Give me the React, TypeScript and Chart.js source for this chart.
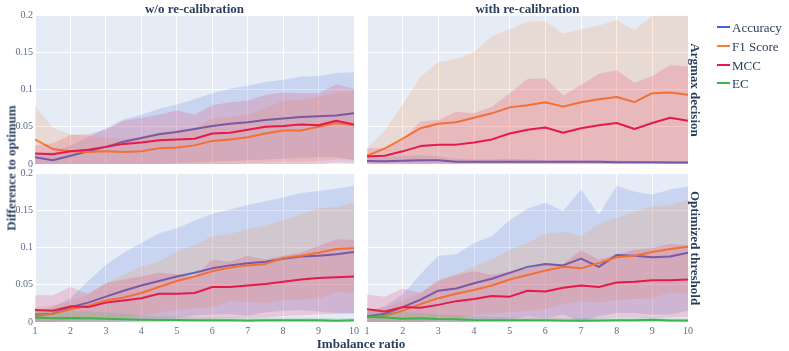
import React, { useEffect, useRef } from 'react';
import { Chart, registerables } from 'chart.js';

Chart.register(...registerables);

// ---------------- data ----------------
const xValues = [1, 1.5, 2, 2.5, 3, 3.5, 4, 4.5, 5, 5.5, 6, 6.5, 7, 7.5, 8, 8.5, 9, 9.5, 10];
const xTickValues = [1, 2, 3, 4, 5, 6, 7, 8, 9, 10];
const xTickLabels = ['1', '2', '3', '4', '5', '6', '7', '8', '9', '10'];
const yTickValues = [0, 0.05, 0.1, 0.15, 0.2];
const yTickLabels = ['0', '0.05', '0.1', '0.15', '0.2'];

const metricNames = ['Accuracy', 'F1 Score', 'MCC', 'EC'];
const columnTitles = ['w/o re-calibration', 'with re-calibration'];
const rowTitles = ['Argmax decision', 'Optimized threshold'];
const xAxisTitle = 'Imbalance ratio';
const yAxisTitle = 'Difference to optimum';

// Argmax decision, w/o re-calibration
const accMeanTL = [0.009, 0.005, 0.011, 0.017, 0.023, 0.030, 0.035, 0.040, 0.043, 0.047, 0.051, 0.054, 0.056, 0.059, 0.061, 0.063, 0.064, 0.065, 0.068];
const accUpTL = [0.014, 0.016, 0.025, 0.036, 0.048, 0.060, 0.066, 0.074, 0.080, 0.087, 0.095, 0.101, 0.105, 0.110, 0.113, 0.117, 0.118, 0.122, 0.123];
const accLoTL = [0, 0, 0, 0, 0, 0, 0, 0, 0.001, 0.002, 0.003, 0.004, 0.005, 0.006, 0.007, 0.008, 0.009, 0.009, 0.005];
const f1MeanTL = [0.033, 0.020, 0.017, 0.016, 0.017, 0.016, 0.017, 0.021, 0.022, 0.025, 0.031, 0.033, 0.036, 0.041, 0.045, 0.045, 0.050, 0.055, 0.052];
const f1UpTL = [0.078, 0.049, 0.040, 0.038, 0.035, 0.034, 0.037, 0.043, 0.046, 0.048, 0.061, 0.063, 0.066, 0.075, 0.085, 0.086, 0.091, 0.096, 0.098];
const f1LoTL = [0, 0, 0, 0, 0, 0, 0, 0, 0, 0, 0, 0, 0.001, 0.002, 0.003, 0.003, 0.004, 0.006, 0.006];
const mccMeanTL = [0.014, 0.013, 0.017, 0.019, 0.023, 0.027, 0.029, 0.032, 0.033, 0.034, 0.041, 0.042, 0.046, 0.050, 0.051, 0.053, 0.052, 0.058, 0.053];
const mccUpTL = [0.025, 0.028, 0.039, 0.040, 0.046, 0.058, 0.062, 0.066, 0.072, 0.066, 0.079, 0.083, 0.085, 0.093, 0.096, 0.095, 0.095, 0.107, 0.101];
const mccLoTL = [0, 0, 0, 0, 0, 0, 0, 0, 0, 0, 0, 0, 0, 0, 0, 0, 0, 0.002, 0.001];

// Argmax decision, with re-calibration
const accMeanTR = [0.004, 0.0036, 0.0045, 0.005, 0.005, 0.003, 0.003, 0.003, 0.003, 0.003, 0.003, 0.003, 0.003, 0.003, 0.0025, 0.0025, 0.0025, 0.002, 0.002];
const accUpTR = [0.008, 0.009, 0.011, 0.012, 0.010, 0.007, 0.006, 0.006, 0.007, 0.006, 0.005, 0.005, 0.005, 0.005, 0.005, 0.004, 0.004, 0.004, 0.004];
const accLoTR = [0.001, 0.001, 0.001, 0.001, 0.001, 0.001, 0.001, 0.001, 0.001, 0.001, 0.001, 0.001, 0.001, 0.001, 0.001, 0.001, 0.001, 0.001, 0.001];
const f1MeanTR = [0.011, 0.021, 0.034, 0.048, 0.054, 0.056, 0.062, 0.068, 0.076, 0.079, 0.083, 0.077, 0.083, 0.087, 0.090, 0.083, 0.095, 0.096, 0.093];
const f1UpTR = [0.021, 0.045, 0.080, 0.117, 0.137, 0.141, 0.150, 0.171, 0.181, 0.191, 0.192, 0.175, 0.181, 0.186, 0.193, 0.180, 0.199, 0.199, 0.199];
const f1LoTR = [0, 0, 0, 0, 0, 0, 0, 0, 0, 0, 0, 0, 0, 0, 0, 0, 0, 0, 0];
const mccMeanTR = [0.010, 0.011, 0.017, 0.024, 0.026, 0.026, 0.029, 0.033, 0.041, 0.046, 0.049, 0.042, 0.048, 0.052, 0.055, 0.047, 0.055, 0.062, 0.058];
const mccUpTR = [0.021, 0.021, 0.033, 0.057, 0.059, 0.070, 0.068, 0.077, 0.095, 0.114, 0.115, 0.092, 0.106, 0.121, 0.126, 0.109, 0.118, 0.133, 0.131];
const mccLoTR = [0, 0, 0, 0, 0, 0, 0, 0, 0, 0, 0, 0, 0, 0, 0, 0, 0, 0, 0];

// Optimized threshold, w/o re-calibration
const accMeanBL = [0.0098, 0.011, 0.020, 0.026, 0.034, 0.042, 0.049, 0.055, 0.061, 0.066, 0.072, 0.076, 0.079, 0.081, 0.085, 0.088, 0.089, 0.091, 0.094];
const accUpBL = [0.015, 0.020, 0.032, 0.055, 0.077, 0.093, 0.106, 0.119, 0.126, 0.136, 0.145, 0.151, 0.157, 0.162, 0.167, 0.173, 0.176, 0.179, 0.183];
const accLoBL = [0, 0, 0, 0, 0, 0.001, 0.002, 0.003, 0.005, 0.009, 0.010, 0.011, 0.008, 0.013, 0.015, 0.016, 0.014, 0.012, 0.012];
const f1MeanBL = [0.0085, 0.011, 0.017, 0.022, 0.029, 0.033, 0.039, 0.047, 0.055, 0.061, 0.068, 0.073, 0.076, 0.078, 0.086, 0.089, 0.093, 0.098, 0.099];
const f1UpBL = [0.020, 0.022, 0.028, 0.037, 0.052, 0.063, 0.075, 0.081, 0.095, 0.103, 0.115, 0.118, 0.125, 0.130, 0.137, 0.144, 0.153, 0.154, 0.160];
const f1LoBL = [0, 0, 0.002, 0.003, 0.004, 0.006, 0.008, 0.012, 0.016, 0.018, 0.020, 0.028, 0.027, 0.025, 0.030, 0.030, 0.032, 0.040, 0.039];
const mccMeanBL = [0.016, 0.015, 0.021, 0.020, 0.026, 0.029, 0.032, 0.038, 0.038, 0.039, 0.047, 0.047, 0.049, 0.051, 0.054, 0.057, 0.059, 0.060, 0.061];
const mccUpBL = [0.036, 0.036, 0.047, 0.038, 0.052, 0.057, 0.061, 0.066, 0.064, 0.061, 0.084, 0.081, 0.089, 0.084, 0.089, 0.093, 0.102, 0.111, 0.110];
const mccLoBL = [0, 0, 0, 0, 0, 0, 0.001, 0.002, 0.003, 0.003, 0.004, 0.005, 0.005, 0.006, 0.008, 0.009, 0.010, 0.011, 0.011];
const ecMeanBL = [0.006, 0.005, 0.0054, 0.005, 0.0045, 0.0036, 0.003, 0.0027, 0.0027, 0.0022, 0.0022, 0.0022, 0.002, 0.0022, 0.0022, 0.0022, 0.0022, 0.0018, 0.0022];
const ecUpBL = [0.016, 0.015, 0.015, 0.014, 0.013, 0.011, 0.009, 0.008, 0.007, 0.006, 0.006, 0.006, 0.005, 0.006, 0.006, 0.006, 0.006, 0.005, 0.005];
const ecLoBL = [0, 0, 0, 0, 0, 0, 0, 0, 0, 0, 0, 0, 0, 0, 0, 0, 0, 0, 0];

// Optimized threshold, with re-calibration
const accMeanBR = [0.0076, 0.011, 0.020, 0.030, 0.042, 0.045, 0.052, 0.058, 0.066, 0.074, 0.078, 0.076, 0.085, 0.074, 0.090, 0.089, 0.087, 0.088, 0.093];
const accUpBR = [0.014, 0.021, 0.037, 0.064, 0.089, 0.091, 0.106, 0.115, 0.137, 0.152, 0.160, 0.149, 0.178, 0.144, 0.183, 0.175, 0.171, 0.178, 0.182];
const accLoBR = [0, 0, 0, 0, 0, 0, 0.001, 0.002, 0.003, 0.008, 0.005, 0.010, 0, 0.008, 0.012, 0.012, 0.010, 0.010, 0.015];
const f1MeanBR = [0.0063, 0.0085, 0.015, 0.024, 0.032, 0.038, 0.043, 0.049, 0.057, 0.063, 0.069, 0.074, 0.072, 0.079, 0.087, 0.089, 0.094, 0.098, 0.101];
const f1UpBR = [0.015, 0.020, 0.028, 0.039, 0.057, 0.064, 0.075, 0.084, 0.097, 0.106, 0.118, 0.121, 0.115, 0.132, 0.140, 0.148, 0.155, 0.157, 0.164];
const f1LoBR = [0, 0, 0, 0, 0.002, 0.004, 0.010, 0.011, 0.013, 0.015, 0.017, 0.024, 0.028, 0.026, 0.030, 0.031, 0.032, 0.040, 0.038];
const mccMeanBR = [0.017, 0.014, 0.020, 0.019, 0.023, 0.028, 0.031, 0.035, 0.034, 0.042, 0.041, 0.046, 0.049, 0.047, 0.053, 0.054, 0.056, 0.056, 0.057];
const mccUpBR = [0.037, 0.034, 0.045, 0.039, 0.055, 0.063, 0.068, 0.063, 0.068, 0.072, 0.079, 0.078, 0.096, 0.084, 0.090, 0.097, 0.099, 0.105, 0.103];
const mccLoBR = [0, 0, 0, 0, 0, 0, 0, 0.001, 0.002, 0.003, 0.003, 0.004, 0.002, 0.004, 0.006, 0.006, 0.005, 0.006, 0.007];
const ecMeanBR = [0.007, 0.006, 0.0045, 0.005, 0.004, 0.0036, 0.0027, 0.0025, 0.0025, 0.0022, 0.0022, 0.002, 0.0018, 0.002, 0.0025, 0.0025, 0.003, 0.002, 0.002];
const ecUpBR = [0.015, 0.014, 0.013, 0.012, 0.010, 0.009, 0.008, 0.007, 0.006, 0.006, 0.006, 0.005, 0.005, 0.005, 0.006, 0.006, 0.006, 0.005, 0.005];
const ecLoBR = [0, 0, 0, 0, 0, 0, 0, 0, 0, 0, 0, 0, 0, 0, 0, 0, 0, 0, 0];

// ---------------- styling ----------------
const W = 789;
const H = 351;
const FONT = '"Liberation Serif", "Times New Roman", Times, serif';
const TEXT = '#2a3f5f';
const TICK = '#5a6a88';
const PLOT_BG = '#E5ECF6';
const COLORS = ['#4363d8', '#f58231', '#e6194b', '#3cb44b'];
const BAND_ALPHA = 0.17;

function rgba(hex: string, a: number) {
  const n = parseInt(hex.slice(1), 16);
  return `rgba(${(n >> 16) & 255},${(n >> 8) & 255},${n & 255},${a})`;
}

type Series = { name: string; color: string; mean: number[]; up: number[]; lo: number[] };
type Panel = {
  key: string;
  left: number; top: number; right: number; bottom: number;
  showX: boolean; showY: boolean;
  series: Series[];
};

const mk = (i: number, mean: number[], up: number[], lo: number[]): Series => ({
  name: metricNames[i], color: COLORS[i], mean, up, lo,
});

const PX = { l1: 35, r1: 354, l2: 367, r2: 688, t1: 15, b1: 164, t2: 173, b2: 322 };

const panels: Panel[] = [
  {
    key: 'TL', left: PX.l1, right: PX.r1, top: PX.t1, bottom: PX.b1, showX: false, showY: true,
    series: [mk(0, accMeanTL, accUpTL, accLoTL), mk(1, f1MeanTL, f1UpTL, f1LoTL), mk(2, mccMeanTL, mccUpTL, mccLoTL)],
  },
  {
    key: 'TR', left: PX.l2, right: PX.r2, top: PX.t1, bottom: PX.b1, showX: false, showY: false,
    series: [mk(0, accMeanTR, accUpTR, accLoTR), mk(1, f1MeanTR, f1UpTR, f1LoTR), mk(2, mccMeanTR, mccUpTR, mccLoTR)],
  },
  {
    key: 'BL', left: PX.l1, right: PX.r1, top: PX.t2, bottom: PX.b2, showX: true, showY: true,
    series: [mk(0, accMeanBL, accUpBL, accLoBL), mk(1, f1MeanBL, f1UpBL, f1LoBL), mk(2, mccMeanBL, mccUpBL, mccLoBL), mk(3, ecMeanBL, ecUpBL, ecLoBL)],
  },
  {
    key: 'BR', left: PX.l2, right: PX.r2, top: PX.t2, bottom: PX.b2, showX: true, showY: false,
    series: [mk(0, accMeanBR, accUpBR, accLoBR), mk(1, f1MeanBR, f1UpBR, f1LoBR), mk(2, mccMeanBR, mccUpBR, mccLoBR), mk(3, ecMeanBR, ecUpBR, ecLoBR)],
  },
];

const Y_AXIS_W = 35;
const X_AXIS_H = 14;

const plotBgPlugin = {
  id: 'plotBg',
  beforeDraw(chart: any) {
    const { ctx, chartArea: a } = chart;
    ctx.save();
    ctx.fillStyle = PLOT_BG;
    ctx.fillRect(a.left, a.top, a.right - a.left, a.bottom - a.top);
    ctx.restore();
  },
};

function buildDatasets(p: Panel) {
  const ds: any[] = [];
  p.series.forEach((s) => {
    ds.push({
      label: s.name + ' lower',
      data: xValues.map((x, j) => ({ x, y: s.lo[j] })),
      borderWidth: 0, borderColor: 'transparent', pointRadius: 0, fill: false, tension: 0,
    });
    ds.push({
      label: s.name + ' upper',
      data: xValues.map((x, j) => ({ x, y: s.up[j] })),
      borderWidth: 0, borderColor: 'transparent', pointRadius: 0, tension: 0,
      fill: '-1', backgroundColor: rgba(s.color, BAND_ALPHA),
    });
    ds.push({
      label: s.name,
      data: xValues.map((x, j) => ({ x, y: s.mean[j] })),
      borderWidth: 2, borderColor: s.color, pointRadius: 0, fill: false, tension: 0,
      borderJoinStyle: 'round',
    });
  });
  ds.forEach((d, k) => { d.order = 1000 - k; });
  return ds;
}

function PanelChart({ p }: { p: Panel }) {
  const ref = useRef<HTMLCanvasElement | null>(null);
  useEffect(() => {
    if (!ref.current) return;
    const chart = new Chart(ref.current, {
      type: 'line',
      data: { datasets: buildDatasets(p) },
      options: {
        responsive: false,
        animation: false,
        devicePixelRatio: 1,
        layout: {
          padding: {
            left: p.showY ? p.left - Y_AXIS_W : p.left,
            right: W - p.right,
            top: p.top,
            bottom: p.showX ? H - p.bottom - X_AXIS_H : H - p.bottom,
          },
        },
        plugins: {
          legend: { display: false },
          tooltip: { enabled: false },
          filler: { drawTime: 'beforeDatasetDraw' } as any,
        },
        scales: {
          x: {
            type: 'linear',
            min: 1,
            max: 10,
            afterBuildTicks: (axis: any) => { axis.ticks = xTickValues.map((v) => ({ value: v })); },
            afterFit: (axis: any) => { axis.height = p.showX ? X_AXIS_H : 0; },
            grid: { color: '#ffffff', lineWidth: 1, drawTicks: false },
            border: { display: false },
            ticks: {
              display: p.showX,
              autoSkip: false,
              maxRotation: 0,
              padding: 3,
              color: TICK,
              font: { family: FONT, size: 10 },
              callback: (_v: any, i: number) => xTickLabels[i],
            },
          },
          y: {
            type: 'linear',
            min: 0,
            max: 0.2,
            afterBuildTicks: (axis: any) => { axis.ticks = yTickValues.map((v) => ({ value: v })); },
            afterFit: (axis: any) => { axis.width = p.showY ? Y_AXIS_W : 0; },
            grid: { color: '#ffffff', lineWidth: 1, drawTicks: false },
            border: { display: false },
            ticks: {
              display: p.showY,
              autoSkip: false,
              padding: 2,
              color: TICK,
              font: { family: FONT, size: 10 },
              callback: (_v: any, i: number) => yTickLabels[i],
            },
          },
        },
      } as any,
      plugins: [plotBgPlugin],
    });
    return () => chart.destroy();
  }, [p]);
  return (
    <canvas
      ref={ref}
      width={W}
      height={H}
      style={{ position: 'absolute', left: 0, top: 0, width: W, height: H }}
    />
  );
}

const titleStyle: React.CSSProperties = {
  position: 'absolute',
  fontFamily: FONT,
  fontWeight: 'bold',
  fontSize: 13,
  color: TEXT,
  whiteSpace: 'nowrap',
  lineHeight: 1,
};

function Label({ x, y, text, rotate = 0 }: { x: number; y: number; text: string; rotate?: number }) {
  return (
    <div style={{ ...titleStyle, left: x, top: y, transform: `translate(-50%, -50%) rotate(${rotate}deg)` }}>
      {text}
    </div>
  );
}

export default function App() {
  const legendY = [27, 46, 65, 83];
  return (
    <div style={{ position: 'absolute', left: 0, top: 0, width: W, height: H, background: '#ffffff', overflow: 'hidden' }}>
      {panels.map((p) => <PanelChart key={p.key} p={p} />)}
      <Label x={(PX.l1 + PX.r1) / 2} y={8} text={columnTitles[0]} />
      <Label x={(PX.l2 + PX.r2) / 2} y={8} text={columnTitles[1]} />
      <Label x={695} y={(PX.t1 + PX.b1) / 2} text={rowTitles[0]} rotate={90} />
      <Label x={695} y={(PX.t2 + PX.b2) / 2} text={rowTitles[1]} rotate={90} />
      <Label x={11} y={168} text={yAxisTitle} rotate={-90} />
      <Label x={361} y={343} text={xAxisTitle} />
      {metricNames.map((name, i) => (
        <div key={name} style={{ position: 'absolute', left: 717, top: legendY[i] - 8, height: 16, display: 'flex', alignItems: 'center' }}>
          <div style={{ width: 13, height: 2, background: COLORS[i], marginRight: 2 }} />
          <span style={{ fontFamily: FONT, fontSize: 13, color: TEXT, lineHeight: 1, whiteSpace: 'nowrap' }}>{name}</span>
        </div>
      ))}
    </div>
  );
}
